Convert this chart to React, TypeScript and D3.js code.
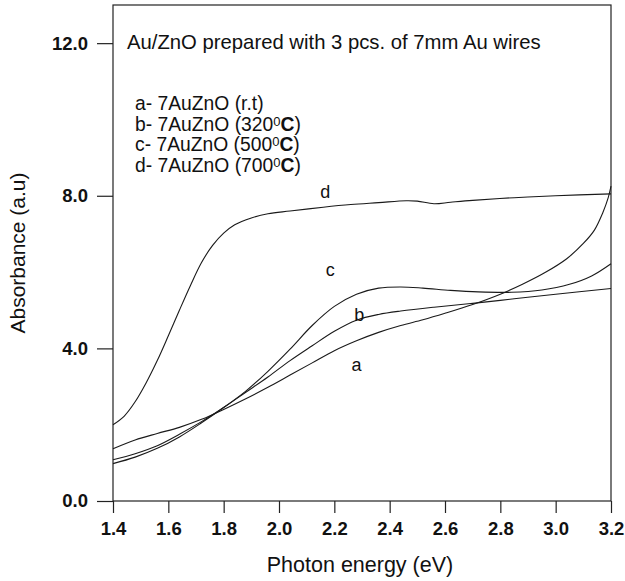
import { useRef, useEffect } from "react";
import * as d3 from "d3";

// photon energy (eV) / absorbance (a.u)
const aX = [1.4, 1.48, 1.56, 1.64, 1.72, 1.8, 1.88, 1.96, 2.04, 2.12, 2.2, 2.28, 2.36, 2.44, 2.52, 2.6, 2.7, 2.8, 2.88, 2.96, 3.04, 3.1, 3.14, 3.17, 3.19, 3.2];
const aY = [1.37, 1.6, 1.77, 1.93, 2.14, 2.4, 2.68, 2.98, 3.3, 3.62, 3.94, 4.2, 4.42, 4.6, 4.75, 4.92, 5.15, 5.42, 5.68, 5.98, 6.35, 6.75, 7.1, 7.55, 7.95, 8.25];

const bX = [1.4, 1.48, 1.56, 1.64, 1.72, 1.8, 1.88, 1.96, 2.04, 2.12, 2.2, 2.28, 2.36, 2.44, 2.56, 2.7, 2.85, 3.0, 3.2];
const bY = [1.08, 1.24, 1.45, 1.75, 2.08, 2.45, 2.85, 3.25, 3.68, 4.07, 4.45, 4.74, 4.89, 4.98, 5.08, 5.18, 5.3, 5.42, 5.57];

const cX = [1.4, 1.48, 1.56, 1.64, 1.72, 1.8, 1.88, 1.96, 2.04, 2.12, 2.2, 2.28, 2.36, 2.44, 2.52, 2.62, 2.72, 2.84, 2.95, 3.05, 3.13, 3.2];
const cY = [0.98, 1.15, 1.38, 1.68, 2.05, 2.45, 2.88, 3.4, 3.98, 4.6, 5.1, 5.42, 5.58, 5.61, 5.58, 5.52, 5.48, 5.47, 5.53, 5.68, 5.9, 6.22];

const dX = [1.4, 1.44, 1.48, 1.52, 1.56, 1.6, 1.64, 1.68, 1.72, 1.76, 1.8, 1.84, 1.9, 1.96, 2.04, 2.16, 2.26, 2.36, 2.46, 2.5, 2.56, 2.62, 2.7, 2.85, 3.0, 3.2];
const dY = [2.0, 2.22, 2.6, 3.1, 3.68, 4.33, 5.0, 5.65, 6.25, 6.7, 7.02, 7.24, 7.42, 7.53, 7.6, 7.7, 7.77, 7.82, 7.87, 7.86, 7.79, 7.83, 7.88, 7.95, 8.0, 8.05];

const curveNames = ["a", "b", "c", "d"];
const labelX = [2.28, 2.29, 2.185, 2.167];
const labelY = [3.4, 4.71, 5.89, 7.93];

const legendNames = ["a- 7AuZnO (r.t)", "b- 7AuZnO (320", "c- 7AuZnO (500", "d- 7AuZnO (700"];
const legendTemp = [false, true, true, true];
const title = "Au/ZnO prepared with 3 pcs. of 7mm Au wires";

const xMajor = [1.4, 1.6, 1.8, 2.0, 2.2, 2.4, 2.6, 2.8, 3.0, 3.2];
const yMajor = [0, 4, 8, 12];
const yMinor = [2, 6, 10];

const font = "'Liberation Sans', Arial, sans-serif";

const Chart = () => {
  const svgRef = useRef<SVGSVGElement>(null);

  useEffect(() => {
    const svg = d3.select(svgRef.current);
    svg.selectAll("*").remove();

    const left = 113, right = 611, top = 5, bottom = 501;
    const x = d3.scaleLinear().domain([1.4, 3.2]).range([left, right]);
    const y = d3.scaleLinear().domain([0, 13]).range([bottom, top]);

    const series = [
      d3.zip(aX, aY),
      d3.zip(bX, bY),
      d3.zip(cX, cY),
      d3.zip(dX, dY),
    ];

    // frame
    svg.append("rect")
      .attr("x", left).attr("y", top)
      .attr("width", right - left).attr("height", bottom - top)
      .attr("fill", "none").attr("stroke", "#222").attr("stroke-width", 1.2);

    const xMinor = d3.range(0, 46).map((i) => 1.4 + i * 0.04)
      .filter((v, i) => i % 5 !== 0);

    const gx = svg.append("g").attr("transform", `translate(0,${bottom})`);
    gx.call(d3.axisBottom(x).tickValues(xMinor).tickSize(5).tickFormat(() => ""));
    gx.call(d3.axisBottom(x).tickValues(xMajor).tickSize(12).tickPadding(9).tickFormat(d3.format(".1f")));
    gx.select(".domain").remove();

    const gy = svg.append("g").attr("transform", `translate(${left},0)`);
    gy.call(d3.axisLeft(y).tickValues(yMinor).tickSize(8).tickFormat(() => ""));
    gy.call(d3.axisLeft(y).tickValues(yMajor).tickSize(16).tickPadding(9).tickFormat(d3.format(".1f")));
    gy.select(".domain").remove();

    svg.selectAll(".tick line").attr("stroke", "#222").attr("stroke-width", 1.2);
    svg.selectAll(".tick text")
      .attr("font-family", font).attr("font-size", 18.5)
      .attr("font-weight", "bold").attr("fill", "#111");

    // curves
    const line = d3.line()
      .x((d) => x(d[0]))
      .y((d) => y(d[1]))
      .curve(d3.curveCatmullRom.alpha(0.5));

    svg.append("g").selectAll("path")
      .data(series)
      .enter()
      .append("path")
      .attr("d", (d) => line(d as [number, number][]))
      .attr("fill", "none")
      .attr("stroke", "#1a1a1a")
      .attr("stroke-width", 1.1);

    // curve letters
    svg.append("g").selectAll("text")
      .data(curveNames)
      .enter()
      .append("text")
      .attr("x", (d, i) => x(labelX[i]))
      .attr("y", (d, i) => y(labelY[i]))
      .attr("text-anchor", "middle")
      .attr("font-family", font).attr("font-size", 18)
      .attr("fill", "#111")
      .text((d) => d);

    // title + legend
    svg.append("text")
      .attr("x", 127).attr("y", 49)
      .attr("font-family", font).attr("font-size", 20.3)
      .attr("fill", "#111")
      .text(title);

    legendNames.forEach((name, i) => {
      const t = svg.append("text")
        .attr("x", 135).attr("y", 110 + i * 20.5)
        .attr("font-family", font).attr("font-size", 19.3)
        .attr("fill", "#111");
      t.append("tspan").text(name);
      if (legendTemp[i]) {
        t.append("tspan").attr("font-size", 13).attr("dy", -5).text("0");
        t.append("tspan").attr("dy", 5).attr("font-weight", "bold").text("C");
        t.append("tspan").text(")");
      }
    });

    // axis titles
    svg.append("text")
      .attr("x", (left + right) / 2 - 2).attr("y", 572)
      .attr("text-anchor", "middle")
      .attr("font-family", font).attr("font-size", 21.5)
      .attr("fill", "#111")
      .text("Photon energy (eV)");

    svg.append("text")
      .attr("transform", "translate(25,253) rotate(-90)")
      .attr("text-anchor", "middle")
      .attr("font-family", font).attr("font-size", 21)
      .attr("fill", "#111")
      .text("Absorbance (a.u)");
  }, []);

  return <svg ref={svgRef} width={625} height={581} style={{ display: "block" }} />;
};

export default function App() {
  return (
    <div style={{ position: "fixed", left: 0, top: 0, background: "#fff" }}>
      <Chart />
    </div>
  );
}
